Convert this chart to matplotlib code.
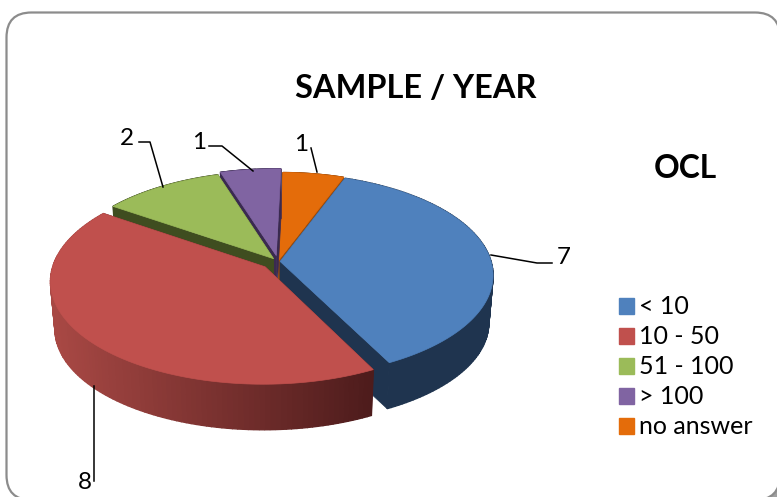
import numpy as np
import matplotlib
matplotlib.use('Agg')
import matplotlib.pyplot as plt
from matplotlib.patches import FancyBboxPatch, Patch, Rectangle

categories = ['< 10', '10 - 50', '51 - 100', '> 100', 'no answer']
values = [7, 8, 2, 1, 1]
colors = ['#4f81bd', '#c0504d', '#9bbb59', '#8064a2', '#e46c0a']
wall_colors = ['#1f344f', '#4f1c1c', '#3f4d20', '#3a2a50', '#a04c08']
explode = [0.01, 0.08, 0.035, 0.06, 0.012]

# pie geometry, in pixels of the 777x497 picture
cx, cy = 278, 261.5
rx, ry = 211, 100
persp = 0.135
depth = 48
start = 88.6 - 360 * values[4] / sum(values)


def project(X, Y, drop=0):
    s = 1 / (1 + persp * Y)
    shrink = 0.98 if drop else 1
    return cx + rx * shrink * X * s, cy + drop + ry * shrink * Y * s * -1


def side_color(i, x):
    # only the red slice has a visible gradient on its side
    if i != 1:
        return wall_colors[i]
    t = np.clip((x - 55) / (372 - 55), 0, 1)
    left = np.array([168, 72, 68])
    right = np.array([78, 28, 28])
    return tuple((left + (right - left) * t) / 255)


fig = plt.figure(figsize=(7.77, 4.97), dpi=100)
ax = fig.add_axes([0, 0, 1, 1])
ax.set_xlim(0, 777)
ax.set_ylim(497, 0)
ax.axis('off')

# grey corner showing behind the frame at the bottom right
ax.add_patch(Rectangle((762, 482), 15, 15, fc='#a0a0a0', ec='none'))
frame = FancyBboxPatch((6.5, 12.5), 773.5, 487.5, boxstyle='round,pad=0,rounding_size=25',
                       fc='white', ec='#8c8c8c', lw=1.6)
ax.add_patch(frame)

# slice limits, going clockwise from the start angle
limits = start - np.cumsum([0] + values) * 360 / sum(values)

# back slices first, red and blue last
for i in [4, 3, 2, 0, 1]:
    a0, a1 = np.radians(limits[i]), np.radians(limits[i + 1])
    mid = (a0 + a1) / 2
    ox, oy = explode[i] * np.cos(mid), explode[i] * np.sin(mid)
    t = np.linspace(a0, a1, 120)
    X = ox + np.cos(t)
    Y = oy + np.sin(t)
    tx, ty = project(X, Y)
    bx, by = project(X, Y, depth)
    ax0, ay0 = project(ox, oy)
    bx0, by0 = project(ox, oy, depth)

    # radial walls
    for j in [0, -1]:
        ax.fill([ax0, tx[j], bx[j], bx0], [ay0, ty[j], by[j], by0],
                color=wall_colors[i], lw=0.5)
    # outer side
    for j in range(len(t) - 1):
        c = side_color(i, tx[j])
        ax.fill([tx[j], tx[j + 1], bx[j + 1], bx[j]], [ty[j], ty[j + 1], by[j + 1], by[j]],
                color=c, lw=1)
    # top face
    ax.fill(np.r_[ax0, tx], np.r_[ay0, ty], color=colors[i], lw=0.5)

# data labels with their leader lines
label_text = [str(v) for v in values]
font = 'Lato'
ax.plot([491, 537, 552], [255, 263, 263], color='black', lw=1.1)
ax.text(564, 258, label_text[0], fontsize=17.5, family=font, ha='center', va='center')
ax.plot([94, 94], [386, 481], color='black', lw=1.1)
ax.text(85, 482.5, label_text[1], fontsize=17.5, family=font, ha='center', va='center')
ax.plot([139, 150, 163], [142, 142, 187], color='black', lw=1.1)
ax.text(127, 138.5, label_text[2], fontsize=17.5, family=font, ha='center', va='center')
ax.plot([209, 222, 253], [146, 146, 171], color='black', lw=1.1)
ax.text(199, 142.5, label_text[3], fontsize=17.5, family=font, ha='center', va='center')
ax.plot([311, 317], [148, 172], color='black', lw=1.1)
ax.text(301, 144.5, label_text[4], fontsize=17.5, family=font, ha='center', va='center')

ax.text(416, 88, 'SAMPLE / YEAR', fontsize=23.4, fontweight='bold', family=font, ha='center', va='center')
ax.text(685, 168.5, 'OCL', fontsize=22.9, fontweight='bold', family=font, ha='center', va='center')

handles = [Patch(color=c, label=n) for c, n in zip(colors, categories)]
ax.legend(handles=handles, loc='upper left', bbox_to_anchor=(611 / 777, 1 - 288 / 497),
          frameon=False, prop={'family': font, 'size': 18}, handlelength=0.6, handleheight=0.6,
          handletextpad=0.22, labelspacing=0.28, borderpad=0.3, borderaxespad=0)

fig.savefig('out.png', dpi=100)
